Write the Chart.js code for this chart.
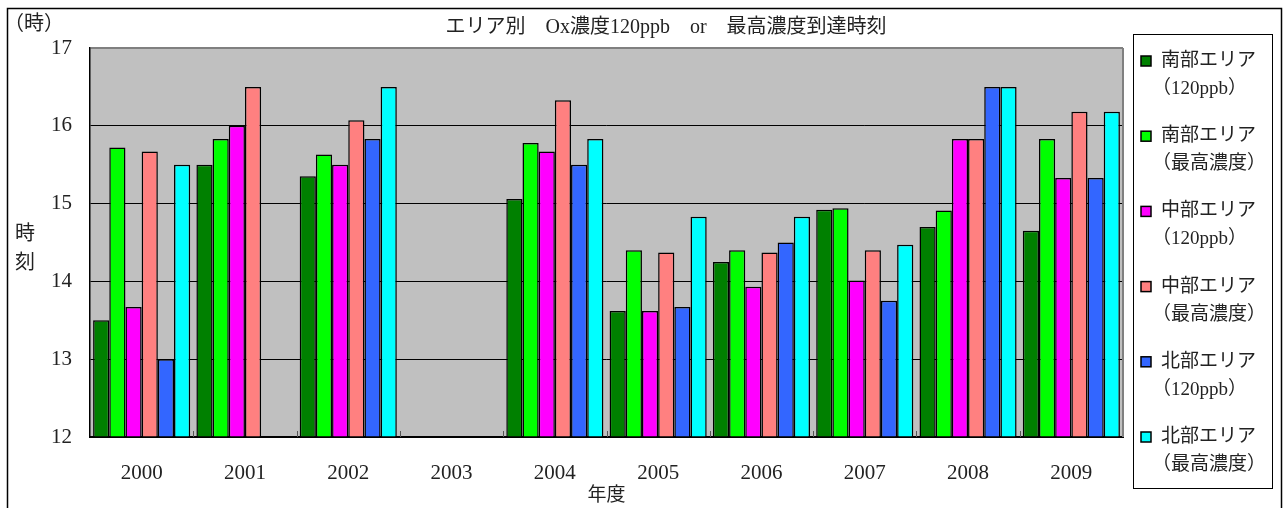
<!DOCTYPE html>
<html lang="ja">
<head>
<meta charset="utf-8">
<title>エリア別 Ox濃度120ppb or 最高濃度到達時刻</title>
<script src="https://cdn.jsdelivr.net/npm/chart.js@4.4.1/dist/chart.umd.min.js"></script>
<style>
  html, body { margin: 0; padding: 0; background: #fff; }
  #wrap { position: relative; width: 1287px; height: 508px; }
</style>
</head>
<body>
<div id="wrap"><canvas id="c" width="1287" height="508"></canvas></div>
<script>
// 年度
const years = ['2000', '2001', '2002', '2003', '2004', '2005', '2006', '2007', '2008', '2009'];

// 到達時刻（時）。2003年度はデータなし
const southAt120   = [13.50, 15.50, 15.35, null, 15.06, 13.62, 14.25, 14.92, 14.70, 14.65];
const southPeak    = [15.72, 15.83, 15.63, null, 15.78, 14.40, 14.40, 14.94, 14.91, 15.83];
const centralAt120 = [13.67, 16.00, 15.50, null, 15.67, 13.62, 13.93, 14.01, 15.83, 15.33];
const centralPeak  = [15.67, 16.50, 16.07, null, 16.33, 14.37, 14.37, 14.40, 15.83, 16.18];
const northAt120   = [13.00, null, 15.83, null, 15.50, 13.67, 14.50, 13.75, 16.50, 15.33];
const northPeak    = [15.50, null, 16.50, null, 15.83, 14.83, 14.83, 14.47, 16.50, 16.18];

// 凡例ラベル（2行）
const areaNames = ['南部エリア', '南部エリア', '中部エリア', '中部エリア', '北部エリア', '北部エリア'];
const kindNames = ['（120ppb）', '（最高濃度）', '（120ppb）', '（最高濃度）', '（120ppb）', '（最高濃度）'];
const seriesColors = ['#008000', '#00ff00', '#ff00ff', '#ff8080', '#3366ff', '#00ffff'];
const seriesValues = [southAt120, southPeak, centralAt120, centralPeak, northAt120, northPeak];

// 縦軸目盛
const yTicks = [12, 13, 14, 15, 16, 17];

const chartTitle = 'エリア別　Ox濃度120ppb　or　最高濃度到達時刻';
const unitLabel = '（時）';
const yTitleChars = ['時', '刻'];
const xTitle = '年度';

const FONT = "'Liberation Serif', 'Noto Sans CJK JP', serif";

const datasets = seriesValues.map((vals, i) => ({
  label: areaNames[i] + kindNames[i],
  data: vals,
  backgroundColor: seriesColors[i],
  borderColor: '#000',
  borderWidth: 1.5,
  borderSkipped: 'bottom',
  base: yTicks[0],
  categoryPercentage: 0.94,
  barPercentage: 1.0
}));

// 描画補助：プロット背景・枠・タイトル・凡例
const decor = {
  id: 'decor',
  beforeDraw(chart) {
    const { ctx, chartArea: a } = chart;
    ctx.save();
    ctx.fillStyle = '#fff';
    ctx.fillRect(0, 0, chart.width, chart.height);
    ctx.fillStyle = '#c0c0c0';
    ctx.fillRect(a.left, a.top, a.right - a.left, a.bottom - a.top);
    ctx.restore();
  },
  afterDatasetsDraw(chart) {
    const { ctx, chartArea: a } = chart;
    const xs = chart.scales.x;
    ctx.save();
    // プロット右端
    ctx.strokeStyle = '#808080';
    ctx.lineWidth = 2;
    ctx.beginPath();
    ctx.moveTo(a.right, a.top);
    ctx.lineTo(a.right, a.bottom);
    ctx.stroke();
    // 項目境界の内向き目盛
    ctx.strokeStyle = '#555';
    ctx.lineWidth = 1;
    const n = years.length;
    const step = (xs.right - xs.left) / n;
    for (let i = 1; i < n; i++) {
      const x = Math.round(xs.left + i * step) + 0.5;
      ctx.beginPath();
      ctx.moveTo(x, a.bottom);
      ctx.lineTo(x, a.bottom - 6);
      ctx.stroke();
    }
    ctx.restore();
  },
  afterDraw(chart) {
    const { ctx } = chart;
    ctx.save();
    // 外枠
    ctx.strokeStyle = '#000';
    ctx.lineWidth = 1.5;
    ctx.strokeRect(7.5, 8.5, 1274, 530);

    ctx.fillStyle = '#222';
    ctx.textBaseline = 'middle';
    // タイトル
    ctx.font = '20px ' + FONT;
    ctx.textAlign = 'center';
    ctx.fillText(chartTitle, 666, 28);
    // 単位
    ctx.textAlign = 'left';
    ctx.fillText(unitLabel, 4, 25);
    // 縦軸タイトル（縦書き）
    ctx.textAlign = 'center';
    yTitleChars.forEach((ch, i) => ctx.fillText(ch, 25, 235 + i * 29));

    // 凡例
    ctx.strokeStyle = '#000';
    ctx.lineWidth = 1;
    ctx.strokeRect(1133.5, 34.5, 139, 454);
    ctx.font = '19px ' + FONT;
    ctx.textAlign = 'left';
    chart.data.datasets.forEach((ds, i) => {
      const y = 61 + i * 75.2;
      ctx.fillStyle = ds.backgroundColor;
      ctx.fillRect(1141, y - 5, 10, 10);
      ctx.strokeStyle = '#000';
      ctx.lineWidth = 1.5;
      ctx.strokeRect(1141, y - 5, 10, 10);
      ctx.fillStyle = '#222';
      ctx.fillText(areaNames[i], 1161, y);
      ctx.fillText(kindNames[i], 1152, y + 28);
    });
    ctx.restore();
  }
};

new Chart(document.getElementById('c'), {
  type: 'bar',
  data: { labels: years, datasets },
  plugins: [decor],
  options: {
    responsive: false,
    animation: false,
    layout: { padding: { top: 48, left: 0, right: 164, bottom: 0 } },
    plugins: {
      legend: { display: false },
      title: { display: false },
      tooltip: { enabled: false }
    },
    scales: {
      x: {
        afterFit(scale) { scale.height = 71; },
        border: { color: '#000', width: 2 },
        grid: { display: false },
        ticks: { color: '#222', font: { family: FONT, size: 21 }, padding: 16 },
        title: {
          display: true, text: xTitle, color: '#222',
          font: { family: FONT, size: 19 }, padding: { top: 0, bottom: 1 }
        }
      },
      y: {
        min: yTicks[0],
        max: yTicks[yTicks.length - 1],
        afterFit(scale) { scale.width = 90; },
        afterBuildTicks(scale) { scale.ticks = yTicks.map(v => ({ value: v })); },
        border: { color: '#000', width: 1.5 },
        grid: {
          drawTicks: false,
          color: ctx => (ctx.tick && ctx.tick.value === yTicks[yTicks.length - 1]) ? '#808080' : '#000',
          lineWidth: ctx => (ctx.tick && ctx.tick.value === yTicks[yTicks.length - 1]) ? 2 : 1
        },
        ticks: { color: '#222', font: { family: FONT, size: 21 }, padding: 18 }
      }
    }
  }
});
</script>
</body>
</html>
